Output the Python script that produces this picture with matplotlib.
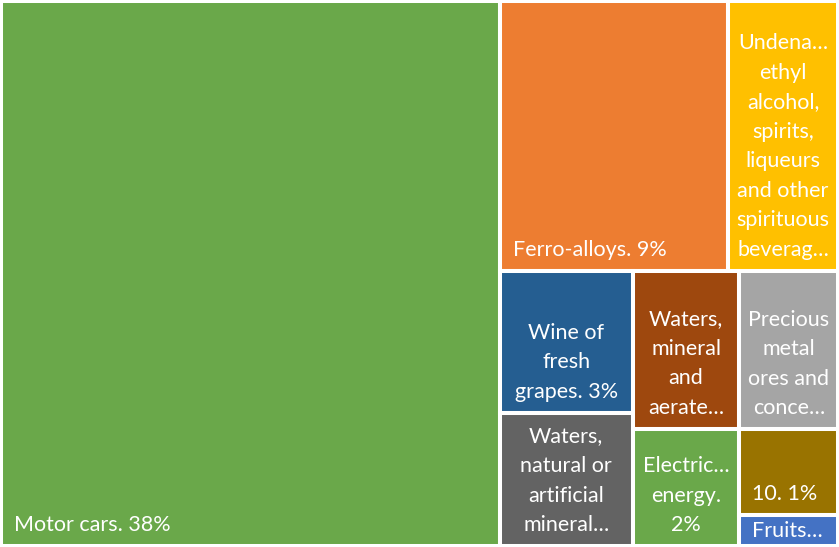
import matplotlib
matplotlib.use("Agg")
import matplotlib.pyplot as plt
from matplotlib.patches import Rectangle

# ---- data ----
names = ["Motor cars", "Ferro-alloys", "Undenatured ethyl alcohol", "Wine of fresh grapes",
         "Waters, mineral and aerated", "Precious metal ores", "Waters, natural or artificial mineral",
         "Electrical energy", "10", "Fruits"]
values = [38.0, 8.63, 4.15, 2.64, 2.36, 2.18, 2.48, 1.75, 1.18, 0.43]
labels = [
    ["Motor cars. 38%"],
    ["Ferro-alloys. 9%"],
    ["Undena…", "ethyl", "alcohol,", "spirits,", "liqueurs", "and other", "spirituous", "beverag…"],
    ["Wine of", "fresh", "grapes. 3%"],
    ["Waters,", "mineral", "and", "aerate…"],
    ["Precious", "metal", "ores and", "conce…"],
    ["Waters,", "natural or", "artificial", "mineral…"],
    ["Electric…", "energy.", "2%"],
    ["10. 1%"],
    ["Fruits…"],
]
colors = ["#6AA84A", "#ED7D31", "#FFC000", "#255E91", "#9E480E", "#A5A5A5",
          "#636363", "#6AA84A", "#997300", "#4472C4"]

# nested layout structure: ('h' = side by side, 'v' = stacked)
structure = ("h", [0, ("v", [("h", [1, 2]),
                             ("h", [("v", [3, 6]), ("v", [4, 7]), ("v", [5, 8, 9])])])])

W, H = 839, 547
fig = plt.figure(figsize=(W / 100, H / 100), dpi=100)
ax = fig.add_axes([0, 0, 1, 1])
ax.set_xlim(0, W)
ax.set_ylim(H, 0)
ax.axis("off")

def total(node):
    if isinstance(node, int):
        return values[node]
    return sum(total(c) for c in node[1])

rects = {}
def layout(node, x, y, w, h):
    if isinstance(node, int):
        rects[node] = (x, y, w, h)
        return
    d, children = node
    s = total(node)
    pos = 0.0
    for c in children:
        f = total(c) / s
        if d == "h":
            layout(c, x + pos * w, y, f * w, h)
        else:
            layout(c, x, y + pos * h, w, f * h)
        pos += f

layout(structure, 1, 1, W - 2, H - 2)

fs = 15.5
lh = 29.5
for i, (x, y, w, h) in rects.items():
    ax.add_patch(Rectangle((x, y), w, h, facecolor=colors[i], edgecolor="white", linewidth=2.9))
    lines = labels[i]
    n = len(lines)
    base = max(y + h - 21, y + h / 2 + 1)
    for k, line in enumerate(lines):
        cy = base - (n - 1 - k) * lh
        if n == 1:
            ax.text(x + 13, cy, line, ha="left", va="center", color="white",
                    fontsize=fs, family="Lato")
        else:
            ax.text(x + w / 2, cy, line, ha="center", va="center", color="white",
                    fontsize=fs, family="Lato")

fig.savefig("out.png", dpi=100)
